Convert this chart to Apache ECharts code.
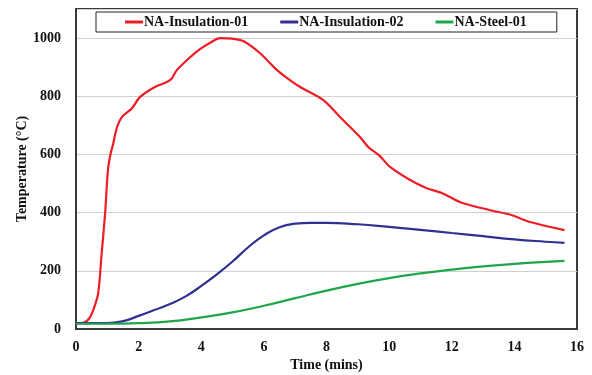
<!DOCTYPE html>
<html><head><meta charset="utf-8">
<script src="https://cdn.jsdelivr.net/npm/echarts@6/dist/echarts.min.js"></script>
<style>html,body{margin:0;padding:0;background:#fff}#c{width:592px;height:375px}</style>
</head><body><div id="c"></div>
<script>
const seriesNames = ['NA-Insulation-01', 'NA-Insulation-02', 'NA-Steel-01'];
const xTicks = [0, 2, 4, 6, 8, 10, 12, 14, 16];
const yTicks = [0, 200, 400, 600, 800, 1000];

const ins01Time = [0, 0.25, 0.45, 0.6, 0.71, 0.82, 0.93, 1.02, 1.1, 1.19, 1.3, 1.47, 1.79, 2.04, 2.52, 2.9, 3.05, 3.22, 3.54, 3.96, 4.3, 4.6, 5.0, 5.34, 5.88, 6.42, 6.84, 7.16, 7.9, 8.43, 9.07, 9.33, 9.7, 10.03, 10.67, 11.2, 11.7, 12.27, 13.2, 13.9, 14.5, 15.6];
const ins01Temp = [20, 22, 41, 80, 123, 260, 398, 546, 600, 638, 690, 729, 759, 797, 832, 849, 860, 890, 924, 962, 985, 1000, 998, 990, 948, 890, 855, 832, 787, 729, 660, 626, 595, 557, 512, 484, 467, 436, 409, 392, 368, 340];

const ins02Time = [0, 0.5, 1, 1.5, 2, 2.5, 3, 3.5, 4, 4.5, 5, 5.5, 6, 6.5, 7, 7.5, 8, 9, 10, 11, 12, 13, 14, 15, 15.6];
const ins02Temp = [20, 20, 20, 27, 45, 65, 86, 112, 148, 188, 232, 281, 322, 350, 362, 365, 365, 360, 351, 341, 330, 319, 308, 300, 296];

const steelTime = [0, 1, 2, 3, 4, 5, 6, 7, 8, 9, 10, 11, 12, 13, 14, 15, 15.6];
const steelTemp = [18, 18, 20, 26, 40, 57, 80, 106, 132, 155, 175, 191, 204, 215, 224, 231, 234];

const colors = ['#ee1c25', '#2e3192', '#1fa64b'];
const font = 'Liberation Serif';

function pairs(t, v) { return t.map((x, i) => [x, v[i]]); }

const chart = echarts.init(document.getElementById('c'), null, {renderer: 'canvas'});
chart.setOption({
  animation: false,
  backgroundColor: '#fff',
  grid: {left: 76, right: 15, top: 9, bottom: 46, containLabel: false, outerBoundsMode: 'none', show: true, borderColor: '#3a3a3a', borderWidth: 2, backgroundColor: 'transparent'},
  legend: {
    data: seriesNames.map((n, i) => ({name: n, icon: 'rect', itemStyle: {color: colors[i]}})),
    left: 96, top: 12,
    padding: [3, 30, 3, 29],
    itemGap: 32,
    itemWidth: 18, itemHeight: 3,
    borderColor: '#222', borderWidth: 1, backgroundColor: '#fff',
    textStyle: {fontFamily: font, fontWeight: 'bold', fontSize: 14, color: '#111', padding: [0, 0, 0, -4]}
  },
  xAxis: {
    type: 'value', min: 0, max: 16, interval: 2,
    name: 'Time (mins)', nameLocation: 'middle', nameGap: 29, nameMoveOverlap: false,
    nameTextStyle: {fontFamily: font, fontWeight: 'bold', fontSize: 14, color: '#111'},
    axisLine: {show: true, lineStyle: {color: '#3a3a3a', width: 2}},
    axisTick: {show: false},
    splitLine: {show: false},
    axisLabel: {fontFamily: font, fontWeight: 'bold', fontSize: 14, color: '#111', margin: 11,
      formatter: v => xTicks.includes(v) ? String(v) : ''}
  },
  yAxis: {
    type: 'value', min: 0, max: 1100, interval: 200,
    name: 'Temperature (°C)', nameLocation: 'middle', nameGap: 47, nameMoveOverlap: false, nameRotate: 90,
    nameTextStyle: {fontFamily: font, fontWeight: 'bold', fontSize: 14, color: '#111'},
    axisLine: {show: true, lineStyle: {color: '#3a3a3a', width: 2}},
    axisTick: {show: false},
    splitLine: {show: true, lineStyle: {color: '#d0d0d0', width: 1}},
    axisLabel: {fontFamily: font, fontWeight: 'bold', fontSize: 14, color: '#111', margin: 15, showMaxLabel: false,
      formatter: v => yTicks.includes(v) ? String(v) : ''}
  },
  series: [
    {name: seriesNames[0], type: 'line', data: pairs(ins01Time, ins01Temp), smooth: 0.3, symbol: 'none', lineStyle: {color: colors[0], width: 2.2}, itemStyle: {color: colors[0]}},
    {name: seriesNames[1], type: 'line', data: pairs(ins02Time, ins02Temp), smooth: 0.5, symbol: 'none', lineStyle: {color: colors[1], width: 2.2}, itemStyle: {color: colors[1]}},
    {name: seriesNames[2], type: 'line', data: pairs(steelTime, steelTemp), smooth: 0.5, symbol: 'none', lineStyle: {color: colors[2], width: 2.2}, itemStyle: {color: colors[2]}}
  ]
});
</script></body></html>
